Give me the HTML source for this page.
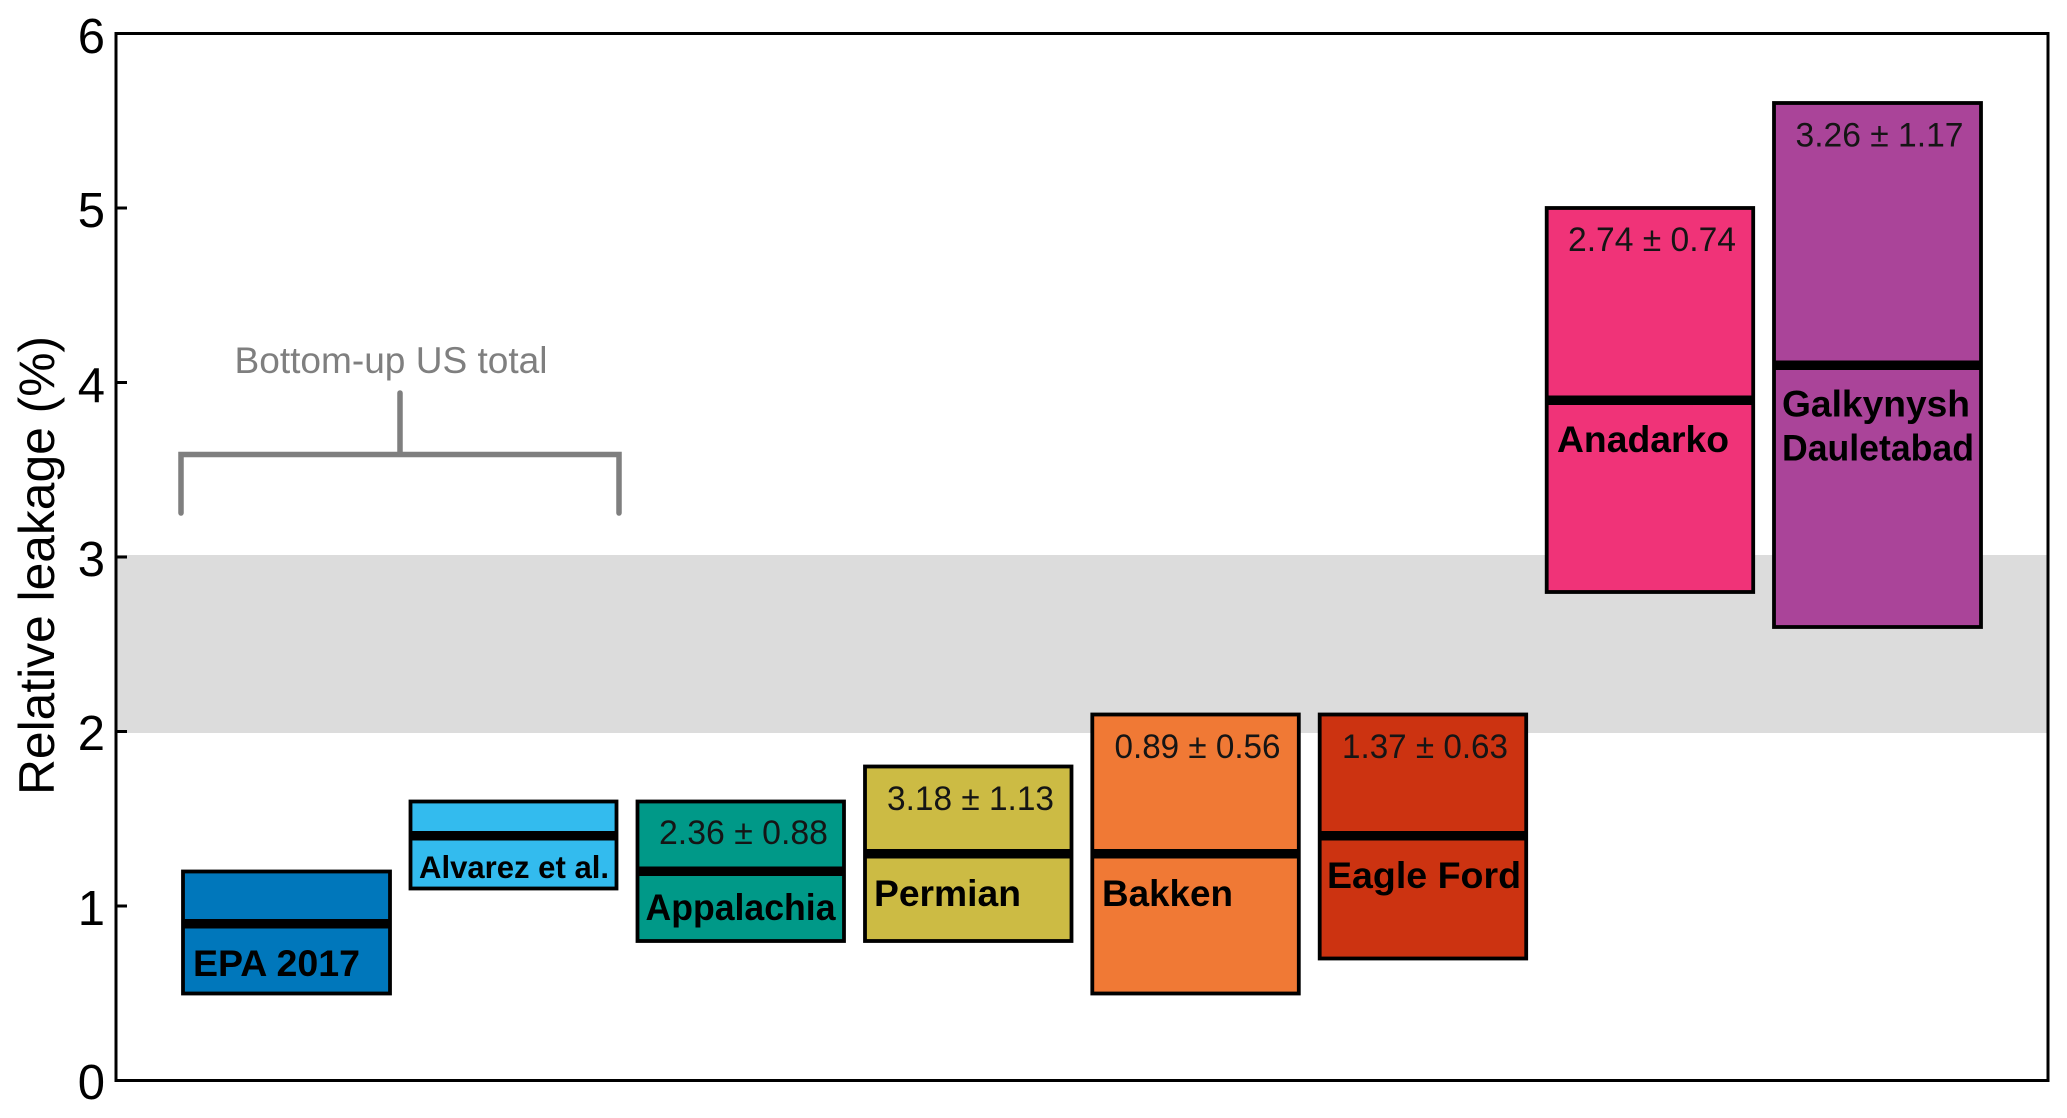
<!DOCTYPE html>
<html>
<head>
<meta charset="utf-8">
<title>Relative leakage chart</title>
<style>
html,body{margin:0;padding:0;background:#fff;}
svg{display:block;}
text{font-family:"Liberation Sans",sans-serif;}
.t{font-size:49px;fill:#000;text-anchor:end;}
.b{font-size:37.5px;font-weight:bold;fill:#000;}
.v{font-size:34.500px;fill:#151515;}
.r{stroke:#000;stroke-width:3.8px;}
.m{fill:#000;}
</style>
</head>
<body>
<svg xmlns="http://www.w3.org/2000/svg" width="2067" height="1118" viewBox="0 0 2067 1118">
<rect width="2067" height="1118" fill="#fff"/>
<!-- band -->
<rect x="117" y="555" width="1931" height="178" fill="#dcdcdc"/>
<!-- axes -->
<rect x="116" y="33.5" width="1932" height="1047" fill="none" stroke="#000" stroke-width="3"/>
<g stroke="#000" stroke-width="3">
<line x1="116" x2="127" y1="208" y2="208"/>
<line x1="116" x2="127" y1="382.5" y2="382.5"/>
<line x1="116" x2="127" y1="557" y2="557"/>
<line x1="116" x2="127" y1="731.5" y2="731.5"/>
<line x1="116" x2="127" y1="906" y2="906"/>
</g>
<!-- tick labels -->
<text class="t" x="105" y="53">6</text>
<text class="t" x="105" y="227">5</text>
<text class="t" x="105" y="402">4</text>
<text class="t" x="105" y="576">3</text>
<text class="t" x="105" y="750">2</text>
<text class="t" x="105" y="925">1</text>
<text class="t" x="105" y="1099">0</text>
<!-- y label -->
<text transform="translate(54,795) rotate(-90)" x="0" y="0" font-size="50" textLength="459" lengthAdjust="spacingAndGlyphs" fill="#000">Relative leakage (%)</text>
<!-- bracket -->
<path d="M181 513V454.5H619V513M400 454.5V393" fill="none" stroke="#7f7f7f" stroke-width="5.500" stroke-linecap="round" stroke-linejoin="miter"/>
<text x="234.500" y="373" font-size="37" fill="#7f7f7f" textLength="313" lengthAdjust="spacingAndGlyphs">Bottom-up US total</text>
<!-- bars -->
<rect class="r" x="183" y="871.5" width="207" height="122" fill="#0077bb"/>
<rect class="m" x="183" y="919" width="207" height="9.5"/>
<rect class="r" x="410.500" y="801.500" width="206" height="87" fill="#33bbee"/>
<rect class="m" x="410.500" y="831" width="206" height="9.500"/>
<rect class="r" x="637.500" y="801.500" width="206.500" height="139.500" fill="#009988"/>
<rect class="m" x="637.500" y="866.500" width="206.500" height="9.500"/>
<rect class="r" x="865" y="766.500" width="206.500" height="174.500" fill="#ccbb44"/>
<rect class="m" x="865" y="849" width="206.500" height="9.500"/>
<rect class="r" x="1092.300" y="714.500" width="206.500" height="279" fill="#f07935"/>
<rect class="m" x="1092.300" y="849" width="206.500" height="9.500"/>
<rect class="r" x="1319.700" y="714.500" width="206.500" height="244" fill="#cc3311"/>
<rect class="m" x="1319.700" y="831" width="206.500" height="9.500"/>
<rect class="r" x="1546.700" y="208" width="206.500" height="384" fill="#f03378"/>
<rect class="m" x="1546.700" y="395.500" width="206.500" height="9.500"/>
<rect class="r" x="1774" y="103" width="207" height="524" fill="#aa4499"/>
<rect class="m" x="1774" y="360.500" width="207" height="9.500"/>
<!-- bold labels -->
<text class="b" x="193" y="976" textLength="167" lengthAdjust="spacingAndGlyphs">EPA 2017</text>
<text class="b" x="419" y="878" style="font-size:31.500px" textLength="190" lengthAdjust="spacingAndGlyphs">Alvarez et al.</text>
<text class="b" x="645.500" y="920" textLength="190" lengthAdjust="spacingAndGlyphs">Appalachia</text>
<text class="b" x="874" y="906" textLength="147" lengthAdjust="spacingAndGlyphs">Permian</text>
<text class="b" x="1102" y="906" textLength="131" lengthAdjust="spacingAndGlyphs">Bakken</text>
<text class="b" x="1327" y="888" textLength="194" lengthAdjust="spacingAndGlyphs">Eagle Ford</text>
<text class="b" x="1557" y="452" textLength="172" lengthAdjust="spacingAndGlyphs">Anadarko</text>
<text class="b" x="1782" y="416.500" textLength="188" lengthAdjust="spacingAndGlyphs">Galkynysh</text>
<text class="b" x="1782" y="460.500" textLength="192" lengthAdjust="spacingAndGlyphs">Dauletabad</text>
<!-- values -->
<text class="v" x="659" y="844" textLength="169" lengthAdjust="spacingAndGlyphs">2.36 ± 0.88</text>
<text class="v" x="887" y="810" textLength="167" lengthAdjust="spacingAndGlyphs">3.18 ± 1.13</text>
<text class="v" x="1114.500" y="758" textLength="166" lengthAdjust="spacingAndGlyphs">0.89 ± 0.56</text>
<text class="v" x="1342" y="758" textLength="166" lengthAdjust="spacingAndGlyphs">1.37 ± 0.63</text>
<text class="v" x="1568" y="251" textLength="168" lengthAdjust="spacingAndGlyphs">2.74 ± 0.74</text>
<text class="v" x="1795.500" y="146.500" textLength="168" lengthAdjust="spacingAndGlyphs">3.26 ± 1.17</text>
</svg>
</body>
</html>
